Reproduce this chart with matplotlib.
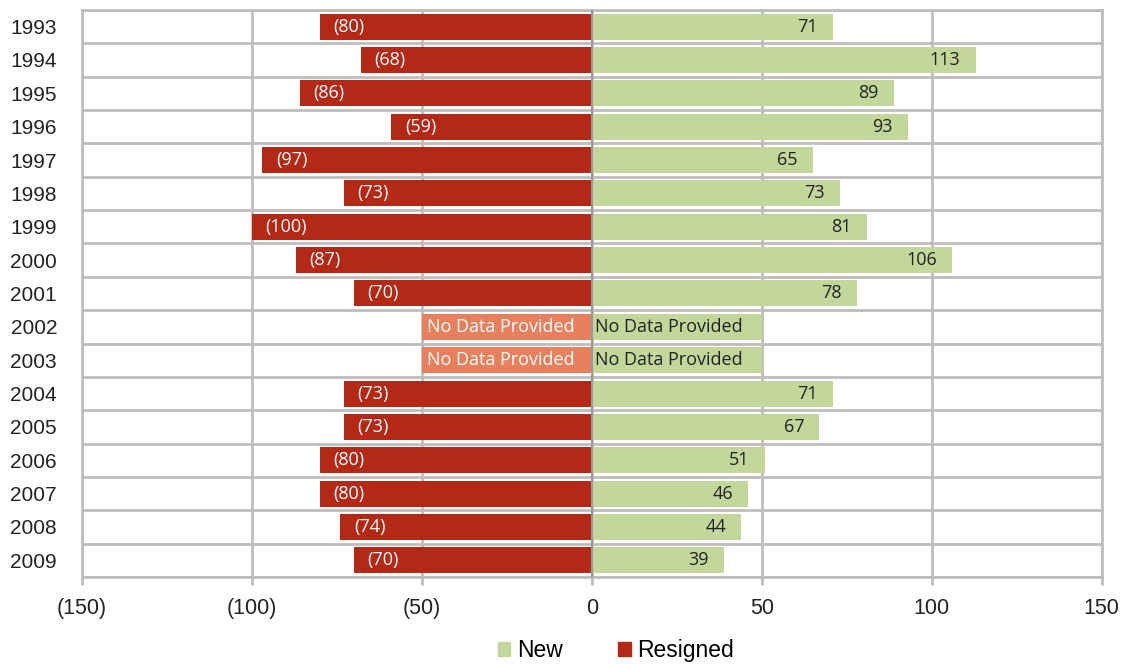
import matplotlib.pyplot as plt
import numpy as np
from matplotlib.patches import Patch

# Data (None = no data provided)
years = ['1993', '1994', '1995', '1996', '1997', '1998', '1999', '2000', '2001',
         '2002', '2003', '2004', '2005', '2006', '2007', '2008', '2009']
resigned = [80, 68, 86, 59, 97, 73, 100, 87, 70, None, None, 73, 73, 80, 80, 74, 70]
new = [71, 113, 89, 93, 65, 73, 81, 106, 78, None, None, 71, 67, 51, 46, 44, 39]
no_data_len = 50
xticks = [-150, -100, -50, 0, 50, 100, 150]
xticklabels = ['(150)', '(100)', '(50)', '0', '50', '100', '150']

red = '#B32916'
salmon = '#E8805E'
green = '#C3D79B'
grid_c = '#BDBDBD'
label_font = 'Open Sans'
lsize = 13

plt.rcParams['font.family'] = ['Liberation Sans', 'DejaVu Sans']

fig = plt.figure(figsize=(11.24, 6.64), dpi=100)
ax = fig.add_axes([0.073, 0.131, 0.907, 0.854])

y = np.arange(len(years))
h = 0.78

for i, (r, n) in enumerate(zip(resigned, new)):
    if r is None:
        ax.barh(i, -no_data_len, height=h, color=salmon, zorder=3)
        ax.text(-no_data_len + 1.5, i, 'No Data Provided', ha='left', va='center',
                color='white', fontsize=lsize, family=label_font, zorder=4)
    else:
        ax.barh(i, -r, height=h, color=red, zorder=3)
        ax.text(-r + 4, i, f'({r})', ha='left', va='center',
                color='white', fontsize=lsize, family=label_font, zorder=4)
    if n is None:
        ax.barh(i, no_data_len, height=h, color=green, zorder=3)
        ax.text(1, i, 'No Data Provided', ha='left', va='center',
                color='#222222', fontsize=lsize, family=label_font, zorder=4)
    else:
        ax.barh(i, n, height=h, color=green, zorder=3)
        ax.text(n - 4.5, i, f'{n}', ha='right', va='center',
                color='#222222', fontsize=lsize, family=label_font, zorder=4)

ax.set_xlim(-150, 150)
ax.set_ylim(len(years) - 0.5, -0.5)
ax.set_xticks(xticks)
ax.set_xticklabels(xticklabels)
ax.set_yticks(y)
ax.set_yticklabels(years)

# Row separators and vertical grid
ax.set_yticks(np.arange(-0.5, len(years), 1), minor=True)
ax.grid(True, which='minor', axis='y', color=grid_c, lw=2, zorder=1)
ax.grid(True, which='major', axis='x', color=grid_c, lw=2, zorder=1)
ax.axvline(0, color='#999999', lw=1.5, zorder=5)

for s in ax.spines.values():
    s.set_color(grid_c)
    s.set_linewidth(2)

ax.tick_params(axis='y', which='both', length=0, pad=18, labelsize=15,
               labelcolor='#222222')
ax.tick_params(axis='x', which='major', length=6, width=2, color=grid_c, pad=9,
               labelsize=15.5, labelcolor='#222222')
ax.tick_params(axis='y', which='minor', length=0)

handles = [Patch(color=green, label='New'), Patch(color=red, label='Resigned')]
fig.legend(handles=handles, loc='lower center', bbox_to_anchor=(0.548, -0.028), ncol=2,
           frameon=False, handlelength=0.55, handleheight=0.55, handletextpad=0.3,
           columnspacing=2.4, prop={'size': 16.5})

fig.savefig('out.png', dpi=100)
